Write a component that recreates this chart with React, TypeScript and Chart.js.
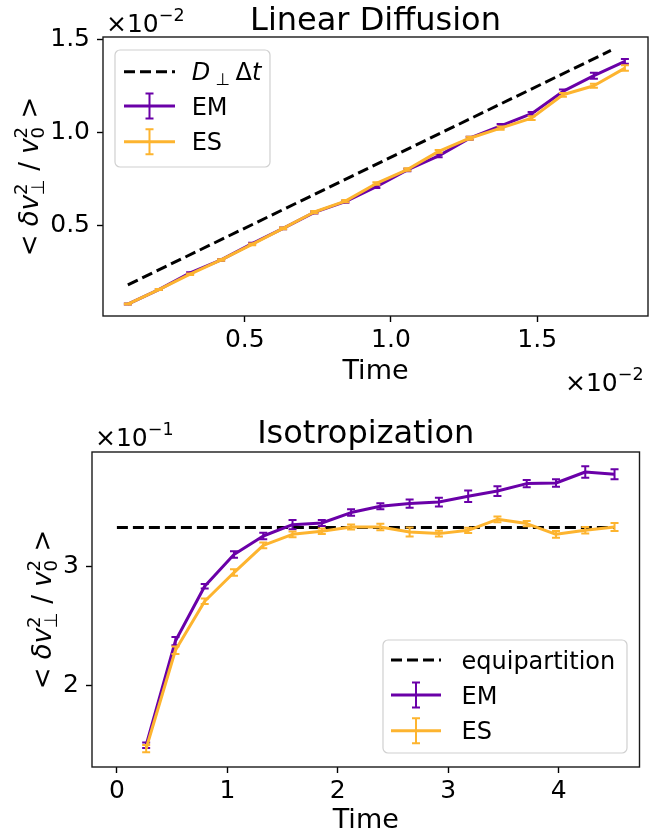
import React, { useEffect, useRef } from "react";
import { Chart, registerables } from "chart.js";

Chart.register(...registerables);

const FONT = '"DejaVu Sans", Verdana, sans-serif';
const PURPLE = "#6a00a8";
const ORANGE = "#fdb42f";
const SPINE = "#1a1a1a";
const TICK_SIZE = 25;
const LABEL_SIZE = 27;
const TITLE_SIZE = 32;
const LEGEND_SIZE = 24;
const YLABEL_SIZE = 26;

// ---------- Linear Diffusion (values shown in units of 1e-2) ----------
const LD_TIME = [0.1, 0.206, 0.313, 0.419, 0.525, 0.631, 0.738, 0.844, 0.95, 1.056, 1.163, 1.269, 1.375, 1.481, 1.588, 1.694, 1.8];
const LD_EM = [0.075, 0.153, 0.243, 0.313, 0.401, 0.483, 0.569, 0.627, 0.708, 0.798, 0.874, 0.969, 1.036, 1.101, 1.221, 1.306, 1.383];
const LD_EM_ERR = [0.003, 0.003, 0.004, 0.004, 0.005, 0.005, 0.006, 0.006, 0.007, 0.007, 0.008, 0.008, 0.009, 0.009, 0.01, 0.016, 0.013];
const LD_ES = [0.075, 0.153, 0.236, 0.313, 0.397, 0.483, 0.571, 0.63, 0.725, 0.8, 0.898, 0.969, 1.023, 1.077, 1.203, 1.252, 1.347];
const LD_ES_ERR = [0.003, 0.003, 0.004, 0.004, 0.005, 0.005, 0.006, 0.006, 0.007, 0.007, 0.008, 0.008, 0.009, 0.01, 0.01, 0.011, 0.015];
const LD_REF_TIME = [0.1, 1.752];
const LD_REF = [0.178, 1.442];
const LD_X_TICKS = [0.5, 1.0, 1.5];
const LD_Y_TICKS = [0.5, 1.0, 1.5];

// ---------- Isotropization (values shown in units of 1e-1) ----------
const ISO_TIME = [0.265, 0.53, 0.795, 1.06, 1.325, 1.59, 1.855, 2.12, 2.385, 2.65, 2.915, 3.18, 3.445, 3.71, 3.975, 4.24, 4.505];
const ISO_EM = [1.493, 2.374, 2.837, 3.105, 3.262, 3.358, 3.372, 3.46, 3.513, 3.536, 3.549, 3.598, 3.642, 3.705, 3.71, 3.803, 3.784];
const ISO_EM_ERR = [0.024, 0.035, 0.02, 0.028, 0.028, 0.039, 0.025, 0.027, 0.025, 0.035, 0.037, 0.049, 0.041, 0.031, 0.031, 0.048, 0.042];
const ISO_ES = [1.465, 2.296, 2.71, 2.953, 3.183, 3.276, 3.302, 3.338, 3.338, 3.296, 3.282, 3.31, 3.403, 3.367, 3.276, 3.31, 3.338];
const ISO_ES_ERR = [0.031, 0.032, 0.024, 0.027, 0.024, 0.024, 0.024, 0.022, 0.028, 0.038, 0.025, 0.022, 0.024, 0.022, 0.028, 0.028, 0.034];
const ISO_EQ_TIME = [0, 4.505];
const ISO_EQ = [3.333, 3.333];
const ISO_X_TICKS = [0, 1, 2, 3, 4];
const ISO_Y_TICKS = [2, 3];

type Run = { t: string; k?: number; it?: boolean; dy?: number; hold?: boolean };

function runFont(r: Run, size: number) {
  return `${r.it ? "italic " : ""}${(r.k ?? 1) * size}px ${FONT}`;
}
function runsWidth(ctx: CanvasRenderingContext2D, runs: Run[], size: number) {
  let w = 0;
  let pending = 0;
  for (const r of runs) {
    ctx.font = runFont(r, size);
    const rw = ctx.measureText(r.t).width;
    if (r.hold) pending = Math.max(pending, rw);
    else {
      w += Math.max(rw, pending);
      pending = 0;
    }
  }
  return w;
}
function drawRuns(ctx: CanvasRenderingContext2D, runs: Run[], size: number, x: number, y: number) {
  let cx = x;
  let pending = 0;
  ctx.textAlign = "left";
  ctx.textBaseline = "alphabetic";
  for (const r of runs) {
    ctx.font = runFont(r, size);
    ctx.fillText(r.t, cx, y + (r.dy ?? 0) * size);
    const rw = ctx.measureText(r.t).width;
    if (r.hold) pending = Math.max(pending, rw);
    else {
      cx += Math.max(rw, pending);
      pending = 0;
    }
  }
}

const YLABEL: Run[] = [
  { t: "<" },
  { t: " " },
  { t: "δ", it: true },
  { t: "v", it: true },
  { t: "2", k: 0.7, dy: -0.42, hold: true },
  { t: "⊥", k: 0.7, dy: 0.22 },
  { t: " / " },
  { t: "v", it: true },
  { t: "2", k: 0.7, dy: -0.42, hold: true },
  { t: "0", k: 0.7, dy: 0.22 },
  { t: " >" },
];
const offsetRuns = (p: string): Run[] => [{ t: "×10" }, { t: p, k: 0.7, dy: -0.45 }];
const DPERP: Run[] = [{ t: "D", it: true }, { t: " ⊥ ", k: 0.7, dy: 0.2 }, { t: "Δ" }, { t: "t", it: true }];

type LegendSpec = {
  x: number; y: number; w: number; h: number;
  rows: number[]; sx0: number; sx1: number; tx: number;
  refLabel: Run[];
};

function drawLegend(ctx: CanvasRenderingContext2D, L: LegendSpec) {
  ctx.save();
  ctx.beginPath();
  const r = 5;
  ctx.moveTo(L.x + r, L.y);
  ctx.arcTo(L.x + L.w, L.y, L.x + L.w, L.y + L.h, r);
  ctx.arcTo(L.x + L.w, L.y + L.h, L.x, L.y + L.h, r);
  ctx.arcTo(L.x, L.y + L.h, L.x, L.y, r);
  ctx.arcTo(L.x, L.y, L.x + L.w, L.y, r);
  ctx.closePath();
  ctx.fillStyle = "rgba(255,255,255,0.8)";
  ctx.fill();
  ctx.strokeStyle = "#d0d0d0";
  ctx.lineWidth = 1.2;
  ctx.stroke();

  // reference dashed line
  ctx.strokeStyle = "#000";
  ctx.lineWidth = 3;
  ctx.setLineDash([11, 5]);
  ctx.beginPath();
  ctx.moveTo(L.sx0, L.rows[0]);
  ctx.lineTo(L.sx1, L.rows[0]);
  ctx.stroke();
  ctx.setLineDash([]);
  ctx.fillStyle = "#000";
  drawRuns(ctx, L.refLabel, LEGEND_SIZE, L.tx, L.rows[0] + 0.36 * LEGEND_SIZE);

  const series: [string, string][] = [
    ["EM", PURPLE],
    ["ES", ORANGE],
  ];
  series.forEach(([name, col], i) => {
    const yy = L.rows[i + 1];
    const mx = (L.sx0 + L.sx1) / 2;
    ctx.strokeStyle = col;
    ctx.lineWidth = 3;
    ctx.beginPath();
    ctx.moveTo(L.sx0, yy);
    ctx.lineTo(L.sx1, yy);
    ctx.stroke();
    ctx.lineWidth = 2;
    ctx.beginPath();
    ctx.moveTo(mx, yy - 12.5);
    ctx.lineTo(mx, yy + 12.5);
    ctx.moveTo(mx - 4, yy - 12.5);
    ctx.lineTo(mx + 4, yy - 12.5);
    ctx.moveTo(mx - 4, yy + 12.5);
    ctx.lineTo(mx + 4, yy + 12.5);
    ctx.stroke();
    ctx.fillStyle = "#000";
    drawRuns(ctx, [{ t: name }], LEGEND_SIZE, L.tx, yy + 0.36 * LEGEND_SIZE);
  });
  ctx.restore();
}

const errorBarPlugin = {
  id: "errorBars",
  afterDatasetDraw(chart: any, args: any) {
    const ds: any = chart.data.datasets[args.index];
    if (!ds.errors) return;
    const xs = chart.scales.x;
    const ys = chart.scales.y;
    const ctx: CanvasRenderingContext2D = chart.ctx;
    ctx.save();
    ctx.strokeStyle = ds.borderColor;
    ctx.lineWidth = 2;
    ctx.setLineDash([]);
    ds.data.forEach((p: any, i: number) => {
      const e = ds.errors[i];
      const px = xs.getPixelForValue(p.x);
      const y1 = ys.getPixelForValue(p.y - e);
      const y2 = ys.getPixelForValue(p.y + e);
      ctx.beginPath();
      ctx.moveTo(px, y1);
      ctx.lineTo(px, y2);
      ctx.moveTo(px - 4, y1);
      ctx.lineTo(px + 4, y1);
      ctx.moveTo(px - 4, y2);
      ctx.lineTo(px + 4, y2);
      ctx.stroke();
    });
    ctx.restore();
  },
};

type Deco = {
  title: string;
  titleY: number;
  xlabelY: number;
  offTopLeft?: { x: number; y: number; p: string };
  offBottomRight?: { x: number; y: number; p: string };
  ylabelX: number;
  legend: LegendSpec;
};

function decoPlugin(d: Deco) {
  return {
    id: "deco",
    afterDraw(chart: any) {
      const ctx: CanvasRenderingContext2D = chart.ctx;
      const a = chart.chartArea;
      ctx.save();
      ctx.strokeStyle = SPINE;
      ctx.lineWidth = 1.4;
      ctx.strokeRect(a.left, a.top, a.right - a.left, a.bottom - a.top);
      const cx = (a.left + a.right) / 2;
      ctx.fillStyle = "#000";
      ctx.textAlign = "center";
      ctx.textBaseline = "alphabetic";
      ctx.font = `${TITLE_SIZE}px ${FONT}`;
      ctx.fillText(d.title, cx, d.titleY);
      ctx.font = `${LABEL_SIZE}px ${FONT}`;
      ctx.fillText("Time", cx, d.xlabelY);
      if (d.offTopLeft) drawRuns(ctx, offsetRuns(d.offTopLeft.p), TICK_SIZE, d.offTopLeft.x, d.offTopLeft.y);
      if (d.offBottomRight) drawRuns(ctx, offsetRuns(d.offBottomRight.p), TICK_SIZE, d.offBottomRight.x, d.offBottomRight.y);
      // rotated y label
      ctx.save();
      ctx.translate(d.ylabelX, (a.top + a.bottom) / 2);
      ctx.rotate(-Math.PI / 2);
      const w = runsWidth(ctx, YLABEL, YLABEL_SIZE);
      drawRuns(ctx, YLABEL, YLABEL_SIZE, -w / 2, 0.36 * YLABEL_SIZE);
      ctx.restore();
      drawLegend(ctx, d.legend);
      ctx.restore();
    },
  };
}

function axis(min: number, max: number, ticks: number[], fmt: (v: number) => string, fit: (s: any) => void, pad: number) {
  return {
    type: "linear",
    min,
    max,
    afterBuildTicks: (s: any) => {
      s.ticks = ticks.map((v) => ({ value: v }));
    },
    afterFit: fit,
    ticks: {
      color: "#000",
      font: { family: FONT, size: TICK_SIZE },
      padding: pad,
      callback: (v: any) => fmt(Number(v)),
      maxRotation: 0,
      minRotation: 0,
      autoSkip: false,
    },
    grid: { display: true, drawOnChartArea: false, drawTicks: true, tickLength: 6, tickWidth: 1.4, tickColor: "#000" },
    border: { display: false },
  };
}

function series(xs: number[], ys: number[]) {
  return xs.map((x, i) => ({ x, y: ys[i] }));
}

function lineDs(label: string, data: any[], color: string, order: number, errors?: number[], dash?: number[]) {
  return {
    label,
    data,
    borderColor: color,
    backgroundColor: color,
    borderWidth: 3,
    borderJoinStyle: "round",
    borderDash: dash ?? [],
    pointRadius: 0,
    pointHoverRadius: 0,
    fill: false,
    tension: 0,
    order,
    errors,
  };
}

function buildConfig(p: {
  datasets: any[];
  xmin: number; xmax: number; ymin: number; ymax: number;
  xticks: number[]; yticks: number[]; fmt: (v: number) => string;
  padTop: number; padRight: number; yWidth: number; xHeight: number;
  deco: Deco;
}) {
  return {
    type: "line",
    data: { datasets: p.datasets },
    options: {
      animation: false,
      responsive: false,
      maintainAspectRatio: false,
      events: [],
      layout: { padding: { top: p.padTop, right: p.padRight, left: 0, bottom: 0 } },
      plugins: { legend: { display: false }, title: { display: false }, tooltip: { enabled: false } },
      scales: {
        x: axis(p.xmin, p.xmax, p.xticks, p.fmt, (s: any) => { s.height = p.xHeight; }, 3),
        y: axis(p.ymin, p.ymax, p.yticks, p.fmt, (s: any) => { s.width = p.yWidth; }, 7),
      },
    },
    plugins: [errorBarPlugin, decoPlugin(p.deco)],
  } as any;
}

export default function App() {
  const topRef = useRef<HTMLCanvasElement>(null);
  const botRef = useRef<HTMLCanvasElement>(null);

  useEffect(() => {
    const c1 = new Chart(
      topRef.current as HTMLCanvasElement,
      buildConfig({
        datasets: [
          lineDs("ES", series(LD_TIME, LD_ES), ORANGE, 0, LD_ES_ERR),
          lineDs("EM", series(LD_TIME, LD_EM), PURPLE, 1, LD_EM_ERR),
          lineDs("D⊥Δt", series(LD_REF_TIME, LD_REF), "#000", 2, undefined, [11, 5]),
        ],
        xmin: 0.015, xmax: 1.879, ymin: 0.0105, ymax: 1.5146,
        xticks: LD_X_TICKS, yticks: LD_Y_TICKS, fmt: (v) => v.toFixed(1),
        padTop: 37, padRight: 1, yWidth: 103, xHeight: 84,
        deco: {
          title: "Linear Diffusion",
          titleY: 30,
          xlabelY: 379,
          offTopLeft: { x: 106, y: 32, p: "−2" },
          offBottomRight: { x: 565, y: 391, p: "−2" },
          ylabelX: 29,
          legend: { x: 115, y: 50, w: 155, h: 117, rows: [71.7, 106, 141.7], sx0: 124, sx1: 175, tx: 191.7, refLabel: DPERP },
        },
      })
    );
    const c2 = new Chart(
      botRef.current as HTMLCanvasElement,
      buildConfig({
        datasets: [
          lineDs("ES", series(ISO_TIME, ISO_ES), ORANGE, 0, ISO_ES_ERR),
          lineDs("EM", series(ISO_TIME, ISO_EM), PURPLE, 1, ISO_EM_ERR),
          lineDs("equipartition", series(ISO_EQ_TIME, ISO_EQ), "#000", 2, undefined, [11, 5]),
        ],
        xmin: -0.2253, xmax: 4.731, ymin: 1.309, ymax: 3.972,
        xticks: ISO_X_TICKS, yticks: ISO_Y_TICKS, fmt: (v) => v.toFixed(0),
        padTop: 52, padRight: 9.5, yWidth: 92, xHeight: 70,
        deco: {
          title: "Isotropization",
          titleY: 43,
          xlabelY: 428,
          offTopLeft: { x: 95, y: 46, p: "−1" },
          ylabelX: 42,
          legend: { x: 383, y: 240, w: 244, h: 113, rows: [260, 295, 330.7], sx0: 391, sx1: 441, tx: 461.5, refLabel: [{ t: "equipartition" }] },
        },
      })
    );
    return () => {
      c1.destroy();
      c2.destroy();
    };
  }, []);

  return (
    <div style={{ position: "absolute", left: 0, top: 0, width: 649, height: 837, background: "#fff", overflow: "hidden" }}>
      <canvas ref={topRef} width={649} height={400} style={{ position: "absolute", left: 0, top: 0 }} />
      <canvas ref={botRef} width={649} height={437} style={{ position: "absolute", left: 0, top: 400 }} />
    </div>
  );
}
